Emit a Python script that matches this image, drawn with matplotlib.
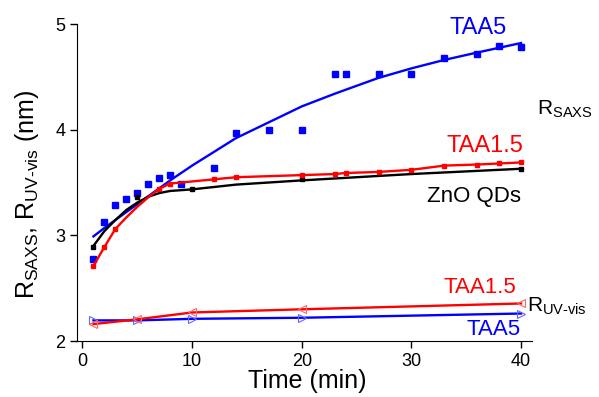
# Growth of ZnO QD radius from SAXS and UV-vis vs time

import matplotlib
matplotlib.use('Agg')
import matplotlib.pyplot as plt

plt.rcParams['font.family'] = ['Liberation Sans', 'DejaVu Sans']
plt.rcParams['mathtext.fontset'] = 'custom'
plt.rcParams['mathtext.rm'] = 'Liberation Sans'
plt.rcParams['mathtext.it'] = 'Liberation Sans'
plt.rcParams['mathtext.bf'] = 'Liberation Sans:bold'

# SAXS radius, TAA5 (blue squares)
taa5_t = [1, 2, 3, 4, 5, 6, 7, 8, 9, 12, 14, 17, 20, 23, 24, 27, 30, 33, 36, 38, 40]
taa5_r = [2.78, 3.13, 3.29, 3.34, 3.40, 3.49, 3.54, 3.57, 3.49, 3.64, 3.97, 4.00, 4.00,
          4.53, 4.53, 4.53, 4.53, 4.68, 4.72, 4.79, 4.78]
taa5_fit_t = [1, 2, 4, 6, 8, 10, 12, 14, 17, 20, 23, 27, 30, 33, 36, 40]
taa5_fit_r = [2.99, 3.07, 3.22, 3.37, 3.52, 3.66, 3.79, 3.92, 4.07, 4.22, 4.34, 4.49,
              4.58, 4.66, 4.73, 4.82]

# SAXS radius, TAA1.5 (red squares)
taa15_t = [1, 2, 3, 7, 8, 12, 14, 20, 23, 24, 27, 30, 33, 36, 38, 40]
taa15_r = [2.71, 2.89, 3.06, 3.44, 3.49, 3.53, 3.55, 3.57, 3.58, 3.59, 3.60, 3.62,
           3.66, 3.67, 3.68, 3.69]
taa15_fit_t = [1, 2, 3, 4, 5, 6, 7, 8, 10, 12, 14, 20, 23, 24, 27, 30, 33, 36, 38, 40]
taa15_fit_r = [2.71, 2.89, 3.06, 3.17, 3.27, 3.36, 3.44, 3.49, 3.51, 3.53, 3.55, 3.57,
               3.58, 3.59, 3.60, 3.62, 3.66, 3.67, 3.68, 3.69]

# SAXS radius, ZnO QDs (black squares)
zno_t = [1, 5, 10, 20, 40]
zno_r = [2.89, 3.36, 3.44, 3.53, 3.63]
zno_fit_t = [1, 2, 3, 4, 5, 6, 7, 8, 10, 14, 20, 30, 40]
zno_fit_r = [2.90, 3.04, 3.145, 3.24, 3.31, 3.365, 3.40, 3.42, 3.435, 3.48, 3.52, 3.58, 3.63]

# UV-vis radius
uv_t = [1, 5, 10, 20, 40]
uv_taa15 = [2.16, 2.205, 2.27, 2.30, 2.355]
uv_taa5 = [2.195, 2.195, 2.21, 2.22, 2.26]

blue = '#0000ff'
red = '#ff0000'

fig = plt.figure(figsize=(5.99, 3.97), dpi=100)
ax = fig.add_axes([77 / 599, 56 / 397, 455 / 599, 317 / 397])

ax.plot(taa5_fit_t, taa5_fit_r, color=blue, lw=1.7)
ax.plot(taa5_t, taa5_r, 's', color=blue, ms=5, ls='none')
ax.plot(zno_fit_t, zno_fit_r, color='black', lw=1.7)
ax.plot(zno_t, zno_r, 's', color='black', ms=3.5, ls='none')
ax.plot(taa15_fit_t, taa15_fit_r, color=red, lw=1.7)
ax.plot(taa15_t, taa15_r, 's', color=red, ms=3.5, ls='none')

ax.plot(uv_t, uv_taa5, color=blue, lw=1.7, marker='>', ms=6, mfc='none', mec='#6666ff', mew=0.8)
ax.plot(uv_t, uv_taa15, color=red, lw=1.7, marker='<', ms=6, mfc='none', mec='#ff6666', mew=0.8)

ax.set_xlim(-0.5, 41)
ax.set_ylim(2, 5)
ax.set_xticks([0, 10, 20, 30, 40])
ax.set_yticks([2, 3, 4, 5])
ax.spines['top'].set_visible(False)
ax.spines['right'].set_visible(False)
ax.tick_params(direction='out', length=5, width=1, labelsize=13)

# series labels
ax.text(36.1, 4.91, 'TAA5', color=blue, fontsize=17, ha='center')
ax.text(36.67, 3.79, 'TAA1.5', color=red, fontsize=17, ha='center')
ax.text(35.7, 3.315, 'ZnO QDs', color='black', fontsize=16, ha='center')
ax.text(36.25, 2.454, 'TAA1.5', color=red, fontsize=16, ha='center')
ax.text(37.5, 2.057, 'TAA5', color=blue, fontsize=16, ha='center')
ax.text(41.45, 4.14, r'R$_{\mathrm{SAXS}}$', fontsize=15, ha='left', clip_on=False)
ax.text(40.5, 2.274, r'R$_{\text{UV-vis}}$', fontsize=15, ha='left', clip_on=False)

fig.text(307 / 599, 1 - 381 / 397, 'Time (min)', fontsize=18, ha='center', va='center')
fig.text(27 / 599, 1 - 195 / 397, r'R$_{\mathrm{SAXS}}$, R$_{\text{UV-vis}}$ (nm)',
         fontsize=18, rotation=90, ha='center', va='center')

fig.savefig('out.png', dpi=100)
